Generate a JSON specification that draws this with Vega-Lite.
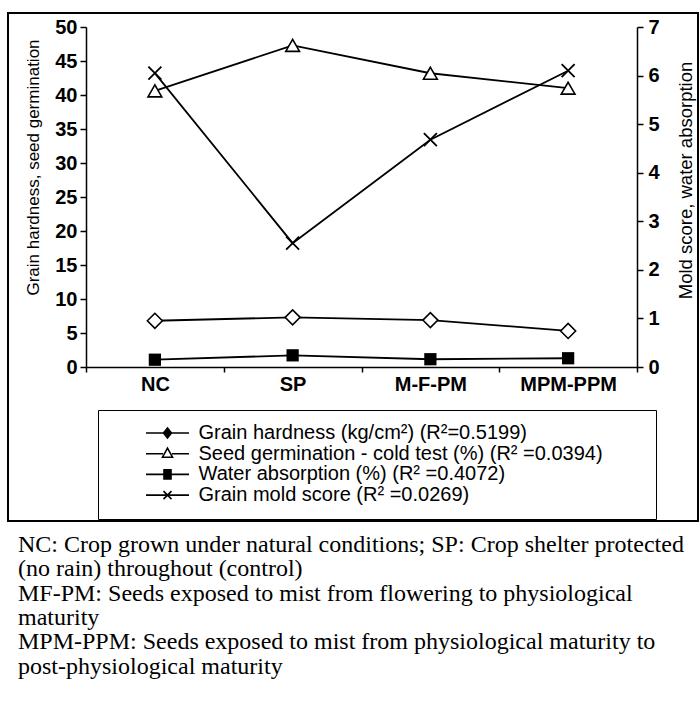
{
  "$schema": "https://vega.github.io/schema/vega-lite/v6.json",
  "width": 690,
  "height": 508,
  "padding": {"left": 8, "top": 13, "right": 1, "bottom": 5},
  "autosize": {"type": "pad"},
  "background": "white",
  "config": {
    "view": {"stroke": "black", "strokeWidth": 2},
    "font": "Liberation Sans",
    "axis": {"domainColor": "black", "tickColor": "black", "labelColor": "black", "titleColor": "black", "grid": false, "domainWidth": 1.5, "tickWidth": 1.5}
  },
  "title": {
    "text": [
      "NC: Crop grown under natural conditions; SP: Crop shelter protected",
      "(no rain) throughout (control)",
      "MF-PM: Seeds exposed to mist from flowering to physiological",
      "maturity",
      "MPM-PPM: Seeds exposed to mist from physiological maturity to",
      "post-physiological maturity"
    ],
    "orient": "bottom", "anchor": "start", "frame": "group",
    "font": "Liberation Serif", "fontSize": 24, "fontWeight": "normal",
    "lineHeight": 24.3, "offset": 12, "dx": 10, "color": "black"
  },
  "data": {"values": [
    {"cat": "NC", "code": "GH", "series": "Grain hardness (kg/cm²) (R²=0.5199)", "value": 6.8},
    {"cat": "SP", "code": "GH", "series": "Grain hardness (kg/cm²) (R²=0.5199)", "value": 7.3},
    {"cat": "M-F-PM", "code": "GH", "series": "Grain hardness (kg/cm²) (R²=0.5199)", "value": 6.9},
    {"cat": "MPM-PPM", "code": "GH", "series": "Grain hardness (kg/cm²) (R²=0.5199)", "value": 5.3},
    {"cat": "NC", "code": "SG", "series": "Seed germination - cold test (%) (R² =0.0394)", "value": 40.6},
    {"cat": "SP", "code": "SG", "series": "Seed germination - cold test (%) (R² =0.0394)", "value": 47.3},
    {"cat": "M-F-PM", "code": "SG", "series": "Seed germination - cold test (%) (R² =0.0394)", "value": 43.2},
    {"cat": "MPM-PPM", "code": "SG", "series": "Seed germination - cold test (%) (R² =0.0394)", "value": 41.0},
    {"cat": "NC", "code": "WA", "series": "Water absorption (%) (R² =0.4072)", "value": 0.15},
    {"cat": "SP", "code": "WA", "series": "Water absorption (%) (R² =0.4072)", "value": 0.24},
    {"cat": "M-F-PM", "code": "WA", "series": "Water absorption (%) (R² =0.4072)", "value": 0.16},
    {"cat": "MPM-PPM", "code": "WA", "series": "Water absorption (%) (R² =0.4072)", "value": 0.18},
    {"cat": "NC", "code": "MS", "series": "Grain mold score (R² =0.0269)", "value": 6.05},
    {"cat": "SP", "code": "MS", "series": "Grain mold score (R² =0.0269)", "value": 2.55},
    {"cat": "M-F-PM", "code": "MS", "series": "Grain mold score (R² =0.0269)", "value": 4.68},
    {"cat": "MPM-PPM", "code": "MS", "series": "Grain mold score (R² =0.0269)", "value": 6.1}
  ]},
  "encoding": {
    "x": {
      "field": "cat", "type": "nominal",
      "sort": ["NC", "SP", "M-F-PM", "MPM-PPM"],
      "scale": {"type": "band", "range": [78, 629], "paddingInner": 0, "paddingOuter": 0},
      "axis": {"title": null, "orient": "bottom", "offset": -154, "tickBand": "extent", "tickSize": 5, "labelFontSize": 20, "labelFontWeight": "bold", "labelPadding": 2, "labelAngle": 0}
    }
  },
  "layer": [
    {
      "encoding": {
        "y": {
          "field": "value", "type": "quantitative",
          "scale": {"domain": [0, 50], "range": [354, 14], "nice": false, "zero": true},
          "axis": {"orient": "left", "offset": -78, "values": [0, 5, 10, 15, 20, 25, 30, 35, 40, 45, 50],
            "title": "Grain hardness, seed germination", "titleFontSize": 17, "titleFontWeight": "normal", "titlePadding": 12, "titleY": 154,
            "labelFontSize": 20, "labelFontWeight": "bold", "tickSize": 6, "labelPadding": 3}
        }
      },
      "layer": [
        {"transform": [{"filter": "datum.code === 'GH' || datum.code === 'SG'"}],
         "mark": {"type": "line", "color": "black", "strokeWidth": 1.8},
         "encoding": {"detail": {"field": "code"}}},
        {"transform": [{"filter": "datum.code === 'GH'"}],
         "mark": {"type": "point", "shape": "diamond", "size": 225, "filled": true, "fill": "white", "stroke": "black", "strokeWidth": 1.6, "opacity": 1}},
        {"transform": [{"filter": "datum.code === 'SG'"}],
         "mark": {"type": "point", "shape": "triangle-up", "size": 190, "filled": true, "fill": "white", "stroke": "black", "strokeWidth": 1.6, "opacity": 1}},
        {"mark": {"type": "point", "filled": false, "color": "black", "opacity": 0},
         "encoding": {
           "shape": {
             "field": "series", "type": "nominal",
             "scale": {
               "domain": ["Grain hardness (kg/cm²) (R²=0.5199)", "Seed germination - cold test (%) (R² =0.0394)", "Water absorption (%) (R² =0.4072)", "Grain mold score (R² =0.0269)"],
               "range": [
                 "M94.3,0M-4.3,0H4.3M0,-1L0.8,0L0,1L-0.8,0ZM0,-0.6L0.45,0L0,0.6L-0.45,0ZM0,-1V1",
                 "M94.3,0M-4.3,0H-0.9M0.9,0H4.3M0,-1.1L1,0.7L-1,0.7Z",
                 "M94.3,0M-4.3,0H4.3M-0.7,-0.9H0.7V0.9H-0.7ZM-0.7,-0.6H0.7M-0.7,-0.3H0.7M-0.7,0.3H0.7M-0.7,0.6H0.7",
                 "M94.3,0M-4.3,0H4.3M-0.8,-0.8L0.8,0.8M-0.8,0.8L0.8,-0.8"
               ]
             },
             "legend": {
               "title": null,
               "orient": "none", "legendX": 90, "legendY": 397,
               "padding": 13, "strokeColor": "black",
               "symbolSize": 100, "symbolOpacity": 1, "symbolFillColor": "transparent", "symbolStrokeColor": "black", "symbolStrokeWidth": 1.6,
               "symbolOffset": 46.5, "labelOffset": 21,
               "labelFontSize": 20, "labelColor": "black", "labelLimit": 0, "rowPadding": 0.7,
               "encode": {"symbols": {"update": {"stroke": {"value": "black"}, "strokeWidth": {"value": 1.6}, "opacity": {"value": 1}}}}
             }
           }
         }}
      ]
    },
    {
      "encoding": {
        "y": {
          "field": "value", "type": "quantitative",
          "scale": {"domain": [0, 7], "range": [354, 14], "nice": false, "zero": true},
          "axis": {"orient": "right", "offset": -61, "values": [0, 1, 2, 3, 4, 5, 6, 7],
            "title": "Mold score, water absorption", "titleFontSize": 18.5, "titleFontWeight": "normal", "titlePadding": 36, "titleAngle": 270, "titleY": 167,
            "labelFontSize": 20, "labelFontWeight": "bold", "tickSize": 6, "labelPadding": 5}
        }
      },
      "layer": [
        {"transform": [{"filter": "datum.code === 'WA' || datum.code === 'MS'"}],
         "mark": {"type": "line", "color": "black", "strokeWidth": 1.8},
         "encoding": {"detail": {"field": "code"}}},
        {"transform": [{"filter": "datum.code === 'WA'"}],
         "mark": {"type": "point", "shape": "square", "size": 150, "filled": true, "color": "black", "opacity": 1}},
        {"transform": [{"filter": "datum.code === 'MS'"}],
         "mark": {"type": "point", "shape": "M-1,-1L1,1M-1,1L1,-1", "size": 169, "filled": false, "stroke": "black", "strokeWidth": 1.8, "opacity": 1}}
      ]
    }
  ],
  "resolve": {"scale": {"y": "independent"}}
}
